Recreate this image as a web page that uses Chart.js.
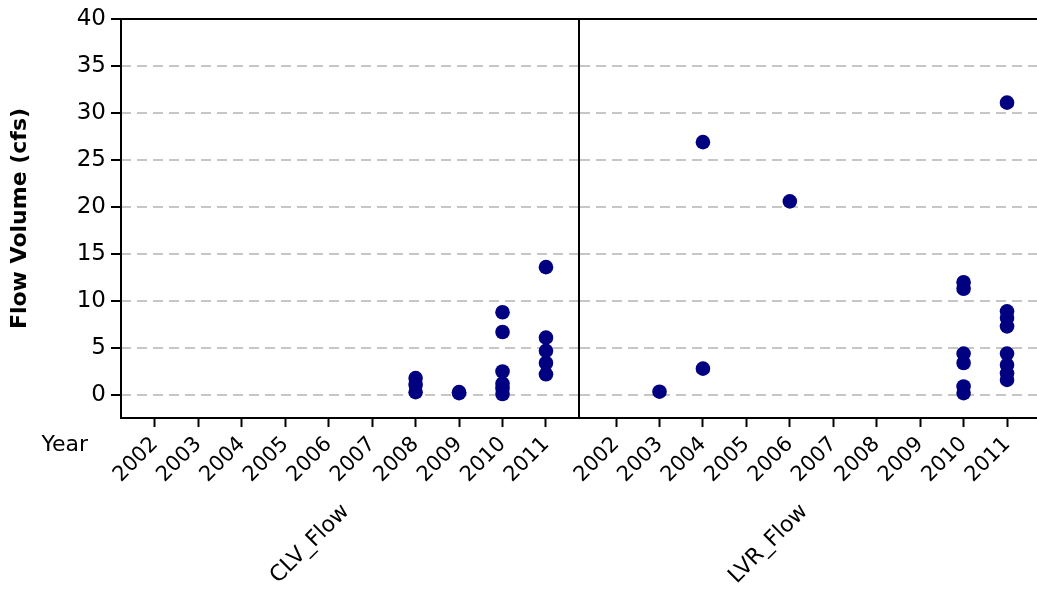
<!DOCTYPE html>
<html><head><meta charset="utf-8">
<script src="https://cdn.jsdelivr.net/npm/chart.js@4/dist/chart.umd.min.js"></script>
<style>
html,body{margin:0;padding:0;background:#fff;}
#wrap{position:relative;width:1037px;height:591px;overflow:hidden;background:#fff;}
canvas{position:absolute;left:0;top:0;}
</style></head><body>
<div id="wrap"><canvas id="c1" width="1050" height="591"></canvas><canvas id="c2" width="1050" height="591"></canvas></div>
<script>
// ---- data ----
const years = [2002, 2003, 2004, 2005, 2006, 2007, 2008, 2009, 2010, 2011];
const yTickValues = [0, 5, 10, 15, 20, 25, 30, 35, 40];
const panelTitles = ['CLV_Flow', 'LVR_Flow'];
const xAxisName = 'Year';
const yAxisName = 'Flow Volume (cfs)';

const clvYear = [2008, 2008, 2008, 2009, 2009, 2010, 2010, 2010, 2010, 2010, 2010, 2011, 2011, 2011, 2011, 2011];
const clvFlow = [1.8, 1.1, 0.3, 0.3, 0.2, 8.8, 6.7, 2.5, 1.2, 0.7, 0.1, 13.6, 6.1, 4.7, 3.4, 2.2];

const lvrYear = [2003, 2004, 2004, 2006, 2010, 2010, 2010, 2010, 2010, 2010, 2011, 2011, 2011, 2011, 2011, 2011, 2011, 2011];
const lvrFlow = [0.35, 26.9, 2.8, 20.6, 12.0, 11.3, 4.4, 3.4, 0.9, 0.2, 31.1, 8.9, 8.2, 7.3, 4.4, 3.2, 2.3, 1.6];

const pts = (xs, ys) => xs.map((x, i) => ({x: x, y: ys[i]}));

const FONT = '"DejaVu Sans", Verdana, sans-serif';
const NAVY = '#000080';
const GRID = '#c6c6c6';

function framePlugin(sides) {
  return {
    id: 'frame',
    afterDatasetsDraw(chart) {
      const {ctx, chartArea: a} = chart;
      ctx.save();
      ctx.strokeStyle = '#000';
      ctx.lineWidth = 2;
      ctx.beginPath();
      ctx.moveTo(a.left - 1, a.top); ctx.lineTo(a.right, a.top);
      ctx.moveTo(a.left - 1, a.bottom); ctx.lineTo(a.right, a.bottom);
      if (sides.left) { ctx.moveTo(a.left, a.top - 1); ctx.lineTo(a.left, a.bottom + 1); }
      if (sides.right) { ctx.moveTo(a.right, a.top - 1); ctx.lineTo(a.right, a.bottom + 1); }
      ctx.stroke();
      ctx.restore();
    }
  };
}

function titlePlugin(title, showYear) {
  return {
    id: 'ptitle',
    afterDraw(chart) {
      const {ctx, chartArea: a} = chart;
      ctx.save();
      ctx.fillStyle = '#000';
      ctx.font = '22px ' + FONT;
      ctx.translate((a.left + a.right) / 2 - 40, a.bottom + 126);
      ctx.rotate(-Math.PI / 4);
      ctx.textAlign = 'center';
      ctx.textBaseline = 'middle';
      ctx.fillText(title, 0, 0);
      ctx.restore();
      if (showYear) {
        ctx.save();
        ctx.fillStyle = '#000';
        ctx.font = '22px ' + FONT;
        ctx.textAlign = 'right';
        ctx.textBaseline = 'middle';
        ctx.fillText(xAxisName, a.left - 33, a.bottom + 27);
        ctx.restore();
      }
    }
  };
}

function makeChart(id, data, title, isLeft, xmin, xmax) {
  return new Chart(document.getElementById(id), {
    type: 'scatter',
    data: {datasets: [{
      data: data,
      backgroundColor: NAVY,
      borderColor: NAVY,
      pointRadius: 7.3,
      pointHoverRadius: 7.3,
      borderWidth: 0
    }]},
    options: {
      responsive: false,
      animation: false,
      events: [],
      layout: {padding: isLeft ? {top: 19, left: 0, right: 471, bottom: 0} : {top: 19, left: 580, right: 13, bottom: 0}},
      plugins: {legend: {display: false}, tooltip: {enabled: false}},
      scales: {
        x: {
          type: 'linear',
          min: xmin, max: xmax,
          afterBuildTicks: s => { s.ticks = years.map(v => ({value: v})); },
          afterFit: s => { s.height = 173; },
          ticks: {
            autoSkip: false, minRotation: 45, maxRotation: 45,
            color: '#000', font: {family: FONT, size: 21}, padding: 5,
            callback: v => String(v)
          },
          grid: {drawOnChartArea: false, drawTicks: true, tickLength: 9, tickColor: '#000', tickWidth: 2},
          border: {display: false}
        },
        y: {
          type: 'linear',
          min: -2.45, max: 40,
          afterBuildTicks: s => { s.ticks = yTickValues.map(v => ({value: v})); },
          afterFit: s => { s.width = isLeft ? 121 : 0; },
          ticks: {
            display: isLeft, color: '#000', font: {family: FONT, size: 23}, padding: 5,
            callback: v => String(v)
          },
          title: {
            display: isLeft, text: yAxisName, color: '#000',
            font: {family: FONT, size: 22, weight: 'bold'}, padding: {top: 7, bottom: 0}
          },
          grid: {color: GRID, lineWidth: 2, drawTicks: isLeft, tickLength: 10, tickColor: '#000', tickWidth: 2, tickBorderDash: []},
          border: {display: false, dash: [10, 6]}
        }
      }
    },
    plugins: [framePlugin({left: isLeft, right: isLeft}), titlePlugin(title, isLeft)]
  });
}

makeChart('c1', pts(clvYear, clvFlow), panelTitles[0], true, 2001.22, 2011.76);
makeChart('c2', pts(lvrYear, lvrFlow), panelTitles[1], false, 2001.17, 2011.69);
</script>
</body></html>
